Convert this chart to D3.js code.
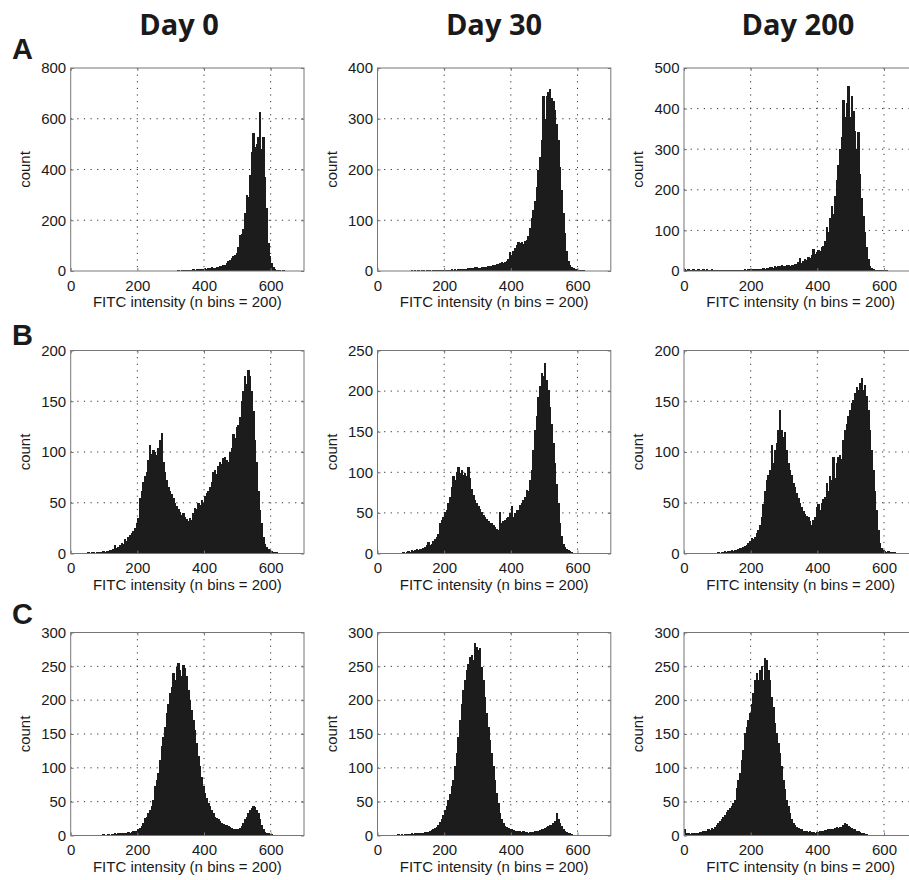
<!DOCTYPE html>
<html><head><meta charset="utf-8">
<script src="https://cdn.jsdelivr.net/npm/d3@7"></script>
<style>body{margin:0;background:#fff}</style>
</head><body><svg id="c" width="909" height="880"></svg>
<script>
const binWidth = 5;
const xDomain = [0, 700];
const xTicks = [0, 200, 400, 600];
const dayLabels = ["Day 0", "Day 30", "Day 200"];
const rowLetters = ["A", "B", "C"];
const yMax = [[800, 400, 500], [200, 250, 200], [300, 300, 300]];
const yStep = [[200, 100, 100], [50, 50, 50], [50, 50, 50]];
const xLabel = "FITC intensity (n bins = 200)";
const yLabel = "count";

const a1Start = 300;
const a1Counts = [0,0,1,0,2,1,2,3,2,4, 3,5,4,6,5,7,6,8,9,7, 10,9,12,11,14,12,13,15,14,18, 20,22,25,30,38,42,50,58,64,72, 95,140,145,165,230,300,290,380,470,545, 490,500,530,625,480,530,370,250,110,60, 30,15,8,5,3,2,1,2,1,0];
const a2Start = 100;
const a2Counts = [1,0,1,0,1,0,1,1,0,1, 1,1,0,1,1,1,1,2,1,2, 2,1,2,2,3,2,3,2,3,3, 4,3,4,4,5,5,6,5,7,7, 6,6,7,7,8,8,9,10,10,11, 12,13,14,15,17,16,18,20,24,37, 31,40,45,52,58,55,57,54,60,62, 68,85,105,120,138,165,200,225,258,345, 300,345,352,358,340,334,318,290,258,205, 160,115,75,40,20,11,7,5,3,3, 2,1,1,1,0];
const a3Start = 0;
const a3Counts = [4,3,4,3,3,4,3,3,4,3, 3,4,3,4,3,3,4,3,3,2, 3,3,2,3,3,2,3,2,3,3, 2,3,3,2,3,3,4,3,4,4, 4,5,4,5,5,6,5,8,6,7, 8,9,10,8,12,11,13,12,14,13, 12,15,14,13,16,15,18,17,22,33, 20,24,30,28,35,32,40,55,42,48, 52,50,58,62,75,108,95,130,160,140, 185,225,260,300,330,422,380,415,456,380, 430,395,345,300,343,240,180,135,95,60, 30,12,7,5,3,3,2,3,2,3, 2,2,1,1,0];

const b1Start = 50;
const b1Counts = [1,0,1,1,0,1,1,1,1,2, 1,2,2,3,3,4,8,5,6,8, 10,9,14,12,16,18,20,22,25,30, 35,55,62,70,76,80,92,107,98,102, 100,97,104,112,119,90,80,72,66,62, 59,55,50,47,44,41,38,40,36,34, 32,35,33,40,45,44,50,48,53,50, 57,60,62,66,70,80,82,78,86,90, 88,94,95,92,90,100,104,118,114,125, 127,134,150,160,175,167,181,175,160,140, 112,90,62,43,30,16,9,6,4,3, 2,1,1,1,0];
const b2Start = 30;
const b2Counts = [1,0,1,1,0,1,1,1,1,2, 1,2,3,2,4,3,4,5,4,5, 6,7,8,10,14,11,12,15,18,20, 24,37,41,45,51,53,62,70,82,95, 90,100,106,99,103,97,99,95,107,93, 80,72,66,62,58,55,51,48,45,42, 40,38,37,35,33,30,29,51,37,40, 41,44,45,50,58,45,50,54,53,60, 62,66,70,78,77,90,103,127,152,169, 193,206,222,218,234,214,201,181,160,136, 111,86,62,37,21,12,8,5,4,3, 2,1,1,0];
const b3Start = 100;
const b3Counts = [1,0,1,1,2,1,2,2,3,2, 3,3,4,5,5,6,7,8,10,12, 15,14,16,20,23,28,36,49,62,72, 77,82,107,89,102,109,122,141,122,115, 120,102,89,82,77,69,66,60,55,50, 46,42,39,37,36,32,28,33,36,46, 49,43,50,54,56,69,62,76,72,95, 74,89,95,97,93,112,122,128,135,141, 148,151,158,164,161,168,173,161,166,155, 141,122,102,82,62,43,23,10,5,3, 2,1,2,1,1,1,1,0];

const c1Start = 90;
const c1Counts = [1,2,1,1,2,1,2,2,3,2, 3,3,4,3,4,4,5,4,5,6, 6,7,9,11,14,19,26,28,33,38, 43,53,73,82,92,112,132,146,161,181, 195,210,220,240,230,249,255,245,235,252, 247,235,215,200,186,171,156,136,117,102, 87,73,63,55,48,43,38,33,28,26, 24,21,19,17,16,15,14,12,11,10, 10,9,9,11,14,18,24,28,33,38, 41,43,42,38,33,24,16,9,5,4, 3,2,2,1,1,1,1,0,1,0,1];
const c2Start = 20;
const c2Counts = [1,0,1,0,1,1,1,1,2,1, 2,1,2,2,2,2,3,2,3,3, 3,4,4,4,5,5,5,7,8,9, 11,13,16,20,24,30,38,43,53,62, 73,82,102,122,146,171,195,215,230,245, 254,264,267,260,284,279,274,277,249,230, 205,181,161,141,122,102,82,63,48,33, 24,19,14,12,11,10,9,8,7,7, 6,6,5,6,5,5,4,5,5,5, 6,6,6,8,9,10,11,12,14,15, 16,19,21,33,24,19,14,10,6,5, 4,3,2,1,1,0,1];
const c3Start = 0;
const c3Counts = [10,3,3,2,3,3,4,3,4,5, 5,6,7,6,9,8,11,10,13,15, 19,21,24,28,31,34,38,40,43,48, 53,70,82,92,112,127,151,161,171,181, 195,210,230,240,230,245,250,230,263,259, 245,230,205,190,166,151,136,122,102,82, 68,53,43,33,24,19,15,13,11,10, 9,7,6,6,5,6,5,5,4,5, 5,6,6,7,8,8,9,10,10,9, 11,12,11,12,13,15,19,17,14,13, 11,10,9,7,6,5,4,3,2,2, 1,1,1];

const panels = [
  [{start: a1Start, counts: a1Counts}, {start: a2Start, counts: a2Counts}, {start: a3Start, counts: a3Counts}],
  [{start: b1Start, counts: b1Counts}, {start: b2Start, counts: b2Counts}, {start: b3Start, counts: b3Counts}],
  [{start: c1Start, counts: c1Counts}, {start: c2Start, counts: c2Counts}, {start: c3Start, counts: c3Counts}]
];

// layout
const colLeft = [70.7, 377.5, 684];
const plotW = 233.3;
const rowTop = [68, 350.5, 632.5];
const plotH = 203;
const titleX = [179, 494, 798];
const titleY = 35;
const letterY = [59, 345, 624];

const svg = d3.select("#c");
svg.append("rect").attr("width", 909).attr("height", 880).attr("fill", "#fff");

const tickFont = "'Liberation Sans', Arial, Helvetica, sans-serif";

dayLabels.forEach((t, i) => {
  svg.append("text").attr("x", titleX[i]).attr("y", titleY)
    .attr("text-anchor", "middle")
    .attr("font-family", "'Open Sans', 'Noto Sans', sans-serif")
    .attr("font-weight", 700).attr("font-size", 29).attr("fill", "#1a1a1a")
    .text(t);
});
rowLetters.forEach((t, i) => {
  svg.append("text").attr("x", 12).attr("y", letterY[i])
    .attr("font-family", tickFont)
    .attr("font-weight", 700).attr("font-size", 29).attr("fill", "#1a1a1a")
    .text(t);
});

panels.forEach((row, r) => {
  row.forEach((p, c) => {
    const g = svg.append("g").attr("transform", `translate(${colLeft[c]},${rowTop[r]})`);
    const x = d3.scaleLinear().domain(xDomain).range([0, plotW]);
    const y = d3.scaleLinear().domain([0, yMax[r][c]]).range([plotH, 0]);
    const yTicks = d3.range(0, yMax[r][c] + 0.001, yStep[r][c]);

    const clipId = `clip${r}${c}`;
    g.append("clipPath").attr("id", clipId).append("rect").attr("width", plotW).attr("height", plotH);

    // grid
    const grid = g.append("g").attr("clip-path", `url(#${clipId})`)
      .attr("stroke", "#333").attr("stroke-width", 1).attr("stroke-dasharray", "1.2,5.4");
    xTicks.filter(v => v > xDomain[0] && v < xDomain[1]).forEach(v => {
      grid.append("line").attr("x1", x(v)).attr("x2", x(v)).attr("y1", 0).attr("y2", plotH);
    });
    yTicks.filter(v => v > 0 && v < yMax[r][c]).forEach(v => {
      grid.append("line").attr("x1", 0).attr("x2", plotW).attr("y1", y(v)).attr("y2", y(v));
    });

    // bars
    const bins = p.counts.map((n, i) => ({x0: p.start + i * binWidth, n}));
    g.append("g").attr("clip-path", `url(#${clipId})`)
      .attr("shape-rendering", "crispEdges")
      .selectAll("rect").data(bins.filter(d => d.n > 0)).join("rect")
      .attr("x", d => x(d.x0))
      .attr("width", d => x(d.x0 + binWidth) - x(d.x0) + 0.6)
      .attr("y", d => y(d.n))
      .attr("height", d => plotH - y(d.n))
      .attr("fill", "#1c1c1c");

    // axes
    const styleAxis = sel => {
      sel.select(".domain").remove();
      sel.selectAll(".tick line").attr("stroke", "#777");
      sel.selectAll("text").attr("font-family", tickFont).attr("font-size", 15).attr("fill", "#1a1a1a");
    };
    g.append("g").attr("transform", `translate(0,${plotH})`)
      .call(d3.axisBottom(x).tickValues(xTicks).tickSize(-3).tickPadding(9).tickFormat(d3.format("d")))
      .call(styleAxis);
    g.append("g")
      .call(d3.axisLeft(y).tickValues(yTicks).tickSize(-3).tickPadding(4.5).tickFormat(d3.format("d")))
      .call(styleAxis);
    g.append("g")
      .call(d3.axisTop(x).tickValues(xTicks).tickSize(-3).tickFormat(""))
      .call(styleAxis);
    g.append("g").attr("transform", `translate(${plotW},0)`)
      .call(d3.axisRight(y).tickValues(yTicks).tickSize(-3).tickFormat(""))
      .call(styleAxis);

    // box
    g.append("rect").attr("width", plotW).attr("height", plotH)
      .attr("fill", "none").attr("stroke", "#777").attr("stroke-width", 1);

    // labels
    g.append("text").attr("x", plotW / 2).attr("y", plotH + 36)
      .attr("text-anchor", "middle").attr("font-family", tickFont).attr("font-size", 15)
      .attr("fill", "#1a1a1a").text(xLabel);
    g.append("text").attr("transform", `translate(-41,${plotH / 2}) rotate(-90)`)
      .attr("text-anchor", "middle").attr("font-family", tickFont).attr("font-size", 15)
      .attr("fill", "#1a1a1a").text(yLabel);
  });
});
</script>
</body></html>
